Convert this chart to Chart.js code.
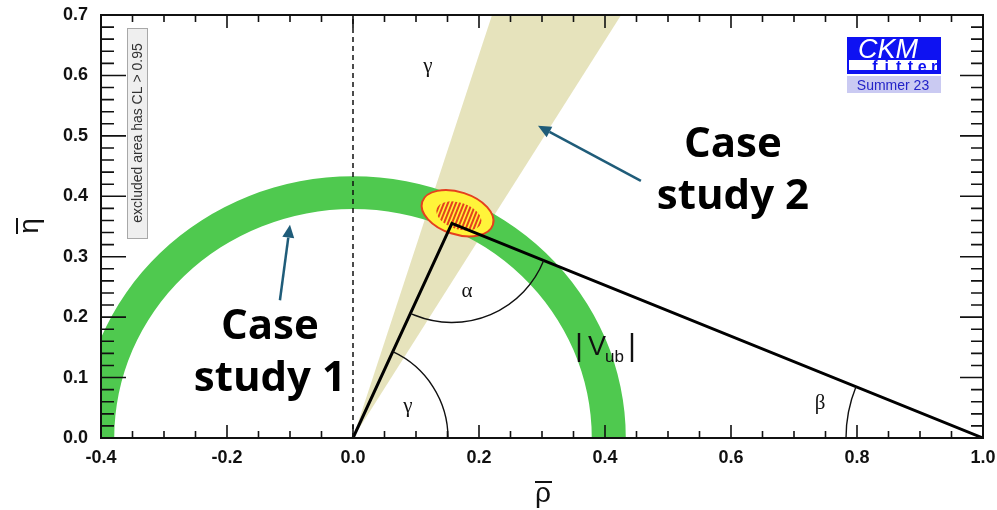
<!DOCTYPE html>
<html>
<head>
<meta charset="utf-8">
<script src="https://cdn.jsdelivr.net/npm/chart.js@4.4.1/dist/chart.umd.min.js"></script>
<style>
  html, body { margin: 0; padding: 0; background: #ffffff; }
  canvas { display: block; }
</style>
</head>
<body>
<canvas id="ckm" width="997" height="510"></canvas>
<script>
// ---- axes -------------------------------------------------------------
const rhoRange = [-0.4, 1.0];
const etaRange = [0.0, 0.7];
const rhoTicks = [-0.4, -0.2, 0.0, 0.2, 0.4, 0.6, 0.8, 1.0];
const rhoTickLabels = ['-0.4', '-0.2', '0.0', '0.2', '0.4', '0.6', '0.8', '1.0'];
const etaTicks = [0.0, 0.1, 0.2, 0.3, 0.4, 0.5, 0.6, 0.7];
const etaTickLabels = ['0.0', '0.1', '0.2', '0.3', '0.4', '0.5', '0.6', '0.7'];
const rhoMinorStep = 0.05;
const etaMinorStep = 0.02;

// ---- unitarity triangle: (0,0) -> apex -> (1,0) -------------------------
const triangleRho = [0.0, 0.157, 1.0];
const triangleEta = [0.0, 0.355, 0.0];

// ---- constraints -------------------------------------------------------
// |Vub| ring: inner and outer radius around the origin
const vubRadii = [0.379, 0.433];
// gamma wedge edges, degrees from the rho axis
const gammaEdgesDeg = [58.7, 72.5];
// global fit regions: [rho, eta, half-width (rho), half-height (eta), tilt in degrees]
const fitOuter = [0.166, 0.372, 0.059, 0.035, 18];
const fitInner = [0.168, 0.3675, 0.037, 0.022, 18];

// ---- annotations (rho, eta) --------------------------------------------
const caseOneText = ['Case', 'study 1'];
const caseTwoText = ['Case', 'study 2'];
const caseOneAt = [-0.132, 0.164];   // centre of the first line's baseline
const caseTwoAt = [0.603, 0.465];
const arrowOne = [[-0.116, 0.228], [-0.100, 0.353]];
const arrowTwo = [[0.457, 0.4255], [0.2937, 0.5166]];

const COLORS = {
  green: '#4FC94F',
  beige: '#E6E3BC',
  yellow: '#FFF43A',
  red: '#E5401E',
  arrow: '#1F5C79',
  blue: '#0E12F2',
  lavender: '#CACAF2',
  logoText: '#2323C8'
};

function px(chart, r, e) {
  return [chart.scales.x.getPixelForValue(r), chart.scales.y.getPixelForValue(e)];
}
function unit(chart) {
  const x = chart.scales.x, y = chart.scales.y;
  return [x.getPixelForValue(1) - x.getPixelForValue(0), y.getPixelForValue(0) - y.getPixelForValue(1)];
}

function ellipsePath(chart, ctx, e) {
  const [cx, cy] = px(chart, e[0], e[1]);
  const [sx, sy] = unit(chart);
  ctx.beginPath();
  ctx.ellipse(cx, cy, e[2] * sx, e[3] * sy, e[4] * Math.PI / 180, 0, Math.PI * 2);
}

// Constraint regions drawn underneath the triangle
const regionsPlugin = {
  id: 'regions',
  beforeDatasetsDraw(chart) {
    const ctx = chart.ctx, a = chart.chartArea;
    ctx.save();
    ctx.beginPath();
    ctx.rect(a.left, a.top, a.right - a.left, a.bottom - a.top);
    ctx.clip();

    // gamma wedge
    const o = px(chart, 0, 0);
    const far = gammaEdgesDeg.map(d => {
      const t = d * Math.PI / 180;
      return px(chart, 2 * Math.cos(t), 2 * Math.sin(t));
    });
    ctx.fillStyle = COLORS.beige;
    ctx.beginPath();
    ctx.moveTo(o[0], o[1]);
    ctx.lineTo(far[0][0], far[0][1]);
    ctx.lineTo(far[1][0], far[1][1]);
    ctx.closePath();
    ctx.fill();

    // |Vub| ring
    const [sx, sy] = unit(chart);
    ctx.fillStyle = COLORS.green;
    ctx.beginPath();
    ctx.ellipse(o[0], o[1], vubRadii[1] * sx, vubRadii[1] * sy, 0, 0, Math.PI * 2);
    ctx.moveTo(o[0] + vubRadii[0] * sx, o[1]);
    ctx.ellipse(o[0], o[1], vubRadii[0] * sx, vubRadii[0] * sy, 0, 0, Math.PI * 2);
    ctx.fill('evenodd');

    // global fit: yellow region with red outline
    ellipsePath(chart, ctx, fitOuter);
    ctx.fillStyle = COLORS.yellow;
    ctx.fill();
    ctx.lineWidth = 2;
    ctx.strokeStyle = COLORS.red;
    ctx.stroke();

    // inner region, red hatching
    ctx.save();
    ellipsePath(chart, ctx, fitInner);
    ctx.clip();
    const [ix, iy] = px(chart, fitInner[0], fitInner[1]);
    ctx.strokeStyle = COLORS.red;
    ctx.lineWidth = 2;
    for (let k = -60; k <= 60; k += 4) {
      ctx.beginPath();
      ctx.moveTo(ix + k - 12, iy + 30);
      ctx.lineTo(ix + k + 12, iy - 30);
      ctx.stroke();
    }
    ctx.restore();

    ctx.restore();
  }
};

// Frame, ticks, angles, labels and annotations
const overlayPlugin = {
  id: 'overlay',
  afterDatasetsDraw(chart) {
    const ctx = chart.ctx, a = chart.chartArea;
    const xs = chart.scales.x, ys = chart.scales.y;
    const O = px(chart, triangleRho[0], triangleEta[0]);
    const A = px(chart, triangleRho[1], triangleEta[1]);
    const B = px(chart, triangleRho[2], triangleEta[2]);
    const ang = (p, q) => Math.atan2(q[1] - p[1], q[0] - p[0]);

    // angle arcs
    ctx.save();
    ctx.strokeStyle = '#111';
    ctx.lineWidth = 1.4;
    ctx.beginPath();
    ctx.arc(A[0], A[1], 99, ang(A, B), ang(A, O), false);
    ctx.stroke();
    ctx.beginPath();
    ctx.arc(O[0], O[1], 95, ang(O, A), 0, false);
    ctx.stroke();
    ctx.beginPath();
    let bEnd = ang(B, A);
    if (bEnd < 0) bEnd += Math.PI * 2;
    ctx.arc(B[0], B[1], 137, Math.PI, bEnd, false);
    ctx.stroke();

    // greek labels
    ctx.fillStyle = '#111';
    ctx.font = '21px "Liberation Serif"';
    ctx.textAlign = 'center';
    ctx.textBaseline = 'middle';
    ctx.fillText('\u03B3', 428, 66);
    ctx.fillText('\u03B1', 467, 291);
    ctx.fillText('\u03B3', 408, 406);
    ctx.fillText('\u03B2', 820, 403);

    // |Vub|
    ctx.lineWidth = 2.4;
    ctx.beginPath();
    ctx.moveTo(579, 333); ctx.lineTo(579, 362);
    ctx.moveTo(632, 333); ctx.lineTo(632, 362);
    ctx.stroke();
    ctx.textAlign = 'left';
    ctx.textBaseline = 'alphabetic';
    ctx.font = '27px "Liberation Sans"';
    ctx.fillText('V', 588, 355);
    ctx.font = '17px "Liberation Sans"';
    ctx.fillText('ub', 605, 362);
    ctx.restore();

    // frame and inward ticks on all four sides
    ctx.save();
    ctx.strokeStyle = '#111';
    ctx.lineWidth = 2;
    ctx.strokeRect(a.left, a.top, a.right - a.left, a.bottom - a.top);
    ctx.lineWidth = 1.6;
    ctx.beginPath();
    const nx = Math.round((rhoRange[1] - rhoRange[0]) / rhoMinorStep);
    for (let i = 0; i <= nx; i++) {
      const v = rhoRange[0] + i * rhoMinorStep;
      const major = rhoTicks.some(t => Math.abs(t - v) < 1e-6);
      const p = xs.getPixelForValue(v);
      const len = major ? 13 : 7;
      ctx.moveTo(p, a.bottom); ctx.lineTo(p, a.bottom - len);
      ctx.moveTo(p, a.top); ctx.lineTo(p, a.top + len);
    }
    const ny = Math.round((etaRange[1] - etaRange[0]) / etaMinorStep);
    for (let i = 0; i <= ny; i++) {
      const v = etaRange[0] + i * etaMinorStep;
      const major = etaTicks.some(t => Math.abs(t - v) < 1e-6);
      const p = ys.getPixelForValue(v);
      ctx.moveTo(a.left, p); ctx.lineTo(a.left + (major ? 25 : 13), p);
      ctx.moveTo(a.right, p); ctx.lineTo(a.right - (major ? 23 : 12), p);
    }
    ctx.stroke();
    ctx.restore();

    // axis titles with overbars
    ctx.save();
    ctx.fillStyle = '#111';
    ctx.strokeStyle = '#111';
    ctx.font = '28px "Liberation Sans"';
    ctx.textAlign = 'center';
    ctx.textBaseline = 'alphabetic';
    ctx.fillText('\u03C1', 543, 502);
    ctx.lineWidth = 2;
    ctx.beginPath();
    ctx.moveTo(535, 482); ctx.lineTo(552, 482);
    ctx.stroke();
    ctx.translate(38, 226);
    ctx.rotate(-Math.PI / 2);
    ctx.fillText('\u03B7', 0, 0);
    ctx.beginPath();
    ctx.moveTo(-8, -21); ctx.lineTo(8, -21);
    ctx.stroke();
    ctx.restore();

    // exclusion note
    ctx.save();
    ctx.fillStyle = '#EFEFEF';
    ctx.strokeStyle = '#A8A8A8';
    ctx.lineWidth = 1;
    ctx.fillRect(127, 28, 20, 210);
    ctx.strokeRect(127.5, 28.5, 20, 210);
    ctx.translate(138, 133);
    ctx.rotate(-Math.PI / 2);
    ctx.fillStyle = '#333';
    ctx.font = '14px "Liberation Sans"';
    ctx.textAlign = 'center';
    ctx.textBaseline = 'middle';
    ctx.fillText('excluded area has CL > 0.95', 0, 0);
    ctx.restore();

    // CKMfitter badge
    ctx.save();
    ctx.fillStyle = COLORS.blue;
    ctx.fillRect(847, 37, 94, 37);
    ctx.fillStyle = '#ffffff';
    ctx.fillRect(849, 60, 88, 10);
    ctx.font = 'italic 27px "Liberation Sans"';
    ctx.textAlign = 'center';
    ctx.textBaseline = 'alphabetic';
    ctx.fillText('CKM', 888, 58);
    ctx.fillStyle = COLORS.blue;
    ctx.font = 'bold 16px "Liberation Sans"';
    'fitter'.split('').forEach((ch, i) => ctx.fillText(ch, 875 + i * 11.8, 72));
    ctx.fillStyle = COLORS.lavender;
    ctx.fillRect(847, 76, 94, 17);
    ctx.fillStyle = COLORS.logoText;
    ctx.font = '14px "Liberation Sans"';
    ctx.fillText('Summer 23', 893, 90);
    ctx.restore();

    // case study annotations
    ctx.save();
    ctx.fillStyle = '#000';
    ctx.font = 'bold 42px "Open Sans"';
    ctx.textBaseline = 'alphabetic';
    ctx.textAlign = 'center';
    [[caseOneAt, caseOneText], [caseTwoAt, caseTwoText]].forEach(([at, lines]) => {
      const p = px(chart, at[0], at[1]);
      ctx.fillText(lines[0], p[0], p[1]);
      ctx.fillText(lines[1], p[0], p[1] + 52);
    });

    // arrows
    [arrowOne, arrowTwo].forEach(ar => {
      const t = px(chart, ar[0][0], ar[0][1]);
      const h = px(chart, ar[1][0], ar[1][1]);
      const th = Math.atan2(h[1] - t[1], h[0] - t[0]);
      const hl = 13, hw = 6;
      const bx = h[0] - hl * Math.cos(th), by = h[1] - hl * Math.sin(th);
      ctx.strokeStyle = COLORS.arrow;
      ctx.fillStyle = COLORS.arrow;
      ctx.lineWidth = 2.5;
      ctx.beginPath();
      ctx.moveTo(t[0], t[1]); ctx.lineTo(bx, by);
      ctx.stroke();
      ctx.beginPath();
      ctx.moveTo(h[0], h[1]);
      ctx.lineTo(bx + hw * Math.sin(th), by - hw * Math.cos(th));
      ctx.lineTo(bx - hw * Math.sin(th), by + hw * Math.cos(th));
      ctx.closePath();
      ctx.fill();
    });
    ctx.restore();
  }
};

const triangle = triangleRho.map((r, i) => ({ x: r, y: triangleEta[i] }));

new Chart(document.getElementById('ckm'), {
  type: 'scatter',
  data: {
    datasets: [
      {
        label: 'rho = 0',
        data: [{ x: 0, y: etaRange[0] }, { x: 0, y: etaRange[1] }],
        showLine: true,
        borderColor: '#111',
        borderWidth: 1.5,
        borderDash: [5, 4],
        pointRadius: 0
      },
      {
        label: 'unitarity triangle',
        data: triangle,
        showLine: true,
        borderColor: '#000',
        borderWidth: 3,
        pointRadius: 0,
        tension: 0
      }
    ]
  },
  options: {
    responsive: false,
    animation: false,
    devicePixelRatio: 1,
    layout: { padding: { top: 15, right: 14, left: 0, bottom: 0 } },
    plugins: { legend: { display: false }, tooltip: { enabled: false } },
    scales: {
      x: {
        type: 'linear',
        min: rhoRange[0],
        max: rhoRange[1],
        grid: { display: false, drawTicks: false },
        border: { display: false },
        afterBuildTicks: s => { s.ticks = rhoTicks.map(v => ({ value: v })); },
        afterFit: s => { s.height = 72; s.paddingLeft = 0; s.paddingRight = 0; },
        ticks: {
          autoSkip: false,
          maxRotation: 0,
          padding: 9,
          color: '#111',
          font: { family: 'Liberation Sans', size: 18, weight: 'bold' },
          callback: (v, i) => rhoTickLabels[i]
        }
      },
      y: {
        type: 'linear',
        min: etaRange[0],
        max: etaRange[1],
        grid: { display: false, drawTicks: false },
        border: { display: false },
        afterBuildTicks: s => { s.ticks = etaTicks.map(v => ({ value: v })); },
        afterFit: s => { s.width = 101; s.paddingTop = 0; s.paddingBottom = 0; },
        ticks: {
          autoSkip: false,
          padding: 13,
          color: '#111',
          font: { family: 'Liberation Sans', size: 18, weight: 'bold' },
          callback: (v, i) => etaTickLabels[i]
        }
      }
    }
  },
  plugins: [regionsPlugin, overlayPlugin]
});
</script>
</body>
</html>
